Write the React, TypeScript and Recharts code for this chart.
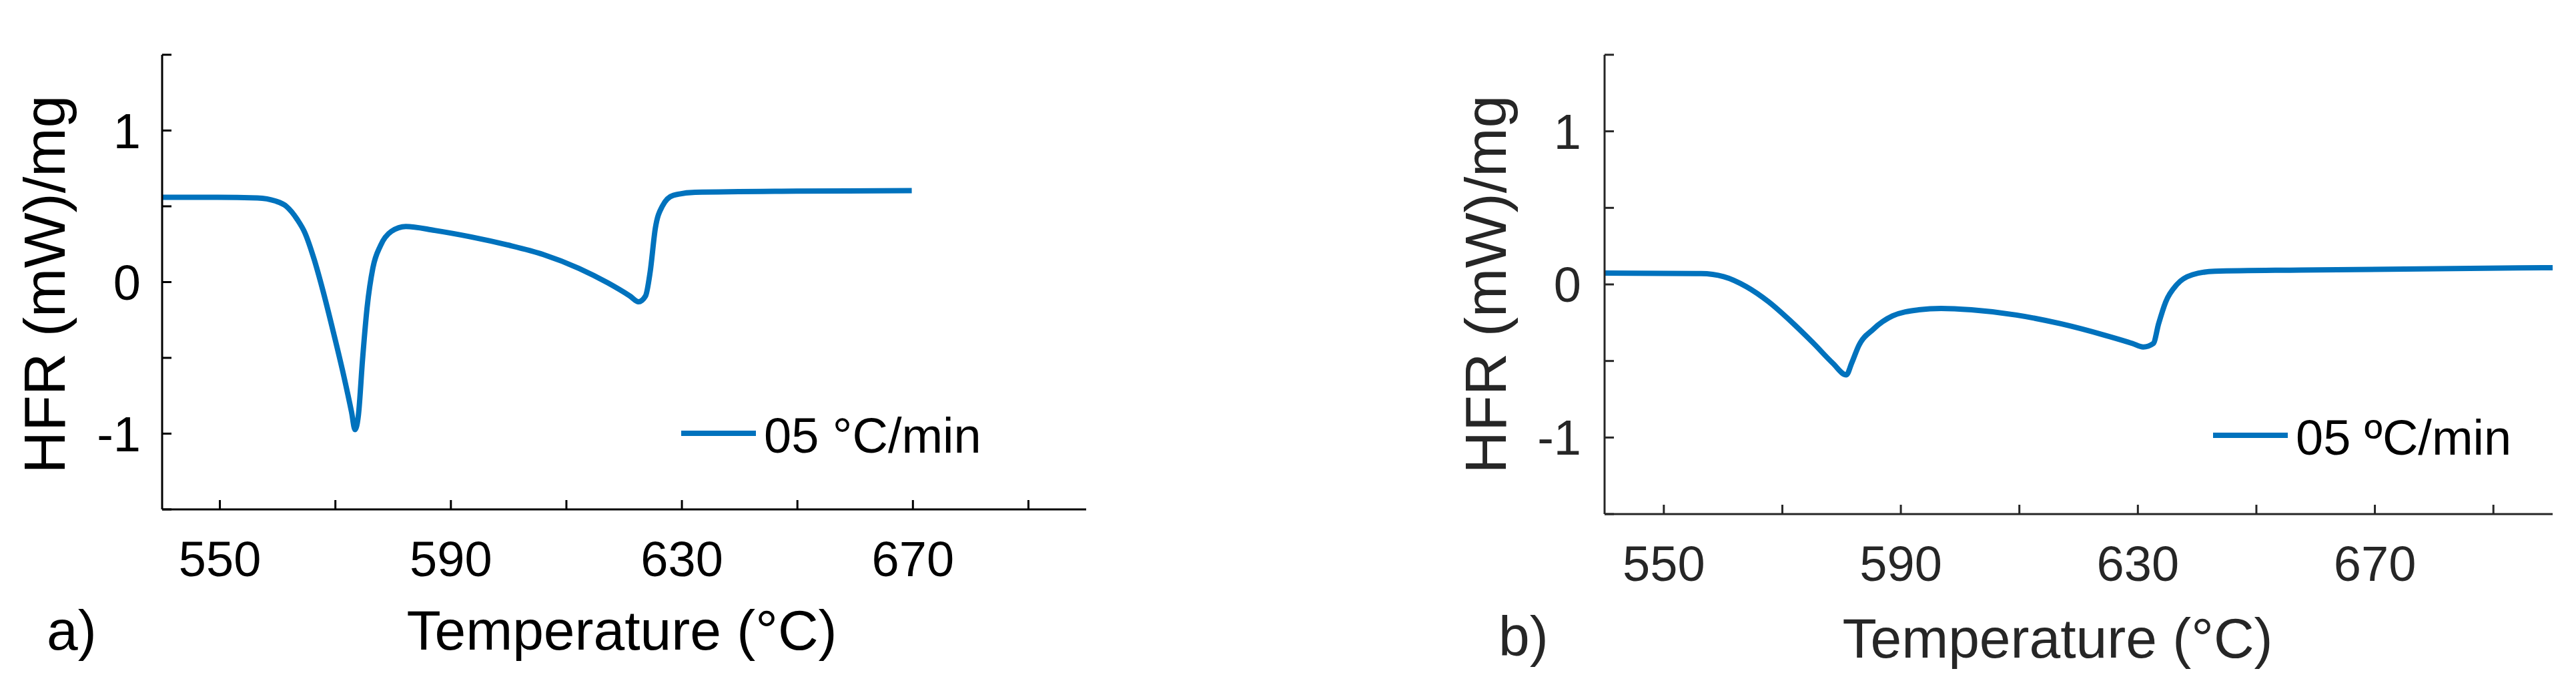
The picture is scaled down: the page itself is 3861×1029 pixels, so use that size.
import React from 'react'
import { LineChart, Line, XAxis, YAxis, Legend } from 'recharts'

// panel a) readings
const tempA = [540, 549.6, 556.5, 559.6, 561.5, 563.4, 564.7, 566.3, 567.8, 569.7, 571.5, 572.8, 573.4, 574.0, 574.7, 575.5, 576.5, 577.8, 579.7, 582.2, 587.2, 593.5, 599.7, 606.0, 612.2, 617.2, 621.0, 622.5, 623.7, 624.5, 625.4, 626.6, 628.5, 632.3, 649.8, 669.8]
const hfrA = [0.56, 0.56, 0.555, 0.535, 0.5, 0.413, 0.327, 0.153, -0.05, -0.338, -0.627, -0.858, -0.974, -0.873, -0.512, -0.165, 0.095, 0.24, 0.335, 0.367, 0.341, 0.298, 0.246, 0.182, 0.09, -0.006, -0.092, -0.13, -0.092, 0.066, 0.355, 0.5, 0.572, 0.592, 0.6, 0.604]

// panel b) readings
const tempB = [540, 556.3, 560.1, 563.9, 567.7, 571.5, 575.3, 578.5, 580.8, 581.7, 582.9, 585.4, 588.6, 593.0, 596.8, 601.9, 609.5, 617.0, 624.6, 629.1, 630.9, 632.6, 633.5, 634.7, 636.6, 639.2, 643.0, 657.5, 700]
const hfrB = [0.074, 0.071, 0.051, -0.014, -0.114, -0.243, -0.386, -0.514, -0.591, -0.514, -0.4, -0.291, -0.206, -0.166, -0.157, -0.166, -0.2, -0.257, -0.334, -0.386, -0.409, -0.386, -0.257, -0.114, 0, 0.063, 0.086, 0.094, 0.109]

const xTicks = [550, 570, 590, 610, 630, 650, 670, 690]
const xLabels = [550, 590, 630, 670]
const yTicks = [-1.5, -1, -0.5, 0, 0.5, 1, 1.5]
const yLabels = [-1, 0, 1]

const dataA = tempA.map((t, i) => ({ t, v: hfrA[i] }))
const dataB = tempB.map((t, i) => ({ t, v: hfrB[i] }))

const FONT = "Arial, 'Liberation Sans', Helvetica, sans-serif"
const BLUE = '#0072BD'

const makeXTick = (color: string) => (props: any) => {
  const { x, y, payload } = props
  return (
    <g>
      <line x1={x} y1={y} x2={x} y2={y - 14} stroke={color} strokeWidth={3} />
      {xLabels.includes(payload.value) && (
        <text x={x} y={y + 100} textAnchor="middle" fontSize={74} fontFamily={FONT} fill={color}>
          {payload.value}
        </text>
      )}
    </g>
  )
}

const makeYTick = (color: string, gap: number) => (props: any) => {
  const { x, y, payload } = props
  return (
    <g>
      <line x1={x} y1={y} x2={x + 14} y2={y} stroke={color} strokeWidth={3} />
      {yLabels.includes(payload.value) && (
        <text x={x - gap} y={y + 26} textAnchor="end" fontSize={74} fontFamily={FONT} fill={color}>
          {payload.value}
        </text>
      )}
    </g>
  )
}

const makeLegend = (label: string, lx: number, ly: number) => () => (
  <svg width={560} height={150}>
    <line x1={lx} y1={ly} x2={lx + 112} y2={ly} stroke={BLUE} strokeWidth={8} />
    <text x={lx + 124} y={ly + 29} fontSize={74} fontFamily={FONT} fill="#000">
      {label}
    </text>
  </svg>
)

type PanelProps = {
  data: any[]
  left: number
  width: number
  margin: { top: number; right: number; bottom: number; left: number }
  color: string
  letter: string
  letterX: number
  letterY: number
  xLabelX: number
  xLabelY: number
  yLabelX: number
  legendLabel: string
  legendPos: { left: number; top: number; lx: number; ly: number }
  tickGap: number
}

const Panel = (p: PanelProps) => (
  <div style={{ position: 'absolute', left: p.left, top: 0 }}>
    <LineChart width={p.width} height={1029} data={p.data} margin={p.margin}>
      <XAxis
        dataKey="t"
        type="number"
        domain={[540, 700]}
        ticks={xTicks}
        interval={0}
        height={100}
        tickSize={0}
        tickMargin={0}
        axisLine={{ stroke: p.color, strokeWidth: 3 }}
        tickLine={false}
        tick={makeXTick(p.color)}
        label={() => (
          <g>
            <text x={p.xLabelX} y={p.xLabelY} textAnchor="middle" fontSize={84} fontFamily={FONT} fill={p.color}>
              Temperature (°C)
            </text>
            <text x={p.letterX} y={p.letterY} fontSize={84} fontFamily={FONT} fill={p.color}>
              {p.letter}
            </text>
          </g>
        )}
      />
      <YAxis
        type="number"
        domain={[-1.5, 1.5]}
        ticks={yTicks}
        interval={0}
        width={100}
        tickSize={0}
        tickMargin={0}
        axisLine={{ stroke: p.color, strokeWidth: 3 }}
        tickLine={false}
        tick={makeYTick(p.color, p.tickGap)}
        label={() => (
          <text
            x={p.yLabelX}
            y={426}
            transform={`rotate(-90 ${p.yLabelX} 426)`}
            textAnchor="middle"
            fontSize={88}
            fontFamily={FONT}
            fill={p.color}
          >
            HFR (mW)/mg
          </text>
        )}
      />
      <Legend
        layout="vertical"
        align="center"
        verticalAlign="middle"
        wrapperStyle={{ left: p.legendPos.left, top: p.legendPos.top, width: 560, height: 150 }}
        content={makeLegend(p.legendLabel, p.legendPos.lx, p.legendPos.ly)}
      />
      <Line
        type="monotone"
        dataKey="v"
        name={p.legendLabel}
        stroke={BLUE}
        strokeWidth={8}
        dot={false}
        isAnimationActive={false}
      />
    </LineChart>
  </div>
)

export default function App() {
  return (
    <div
      style={{
        position: 'absolute',
        left: 0,
        top: 0,
        width: 3861,
        height: 1029,
        background: '#fff',
        overflow: 'hidden',
        fontFamily: FONT,
      }}
    >
      <Panel
        data={dataA}
        left={0}
        width={1700}
        margin={{ top: 82, right: 72, bottom: 166, left: 143 }}
        color="#000"
        letter="a)"
        letterX={70}
        letterY={973}
        xLabelX={932}
        xLabelY={973}
        yLabelX={97}
        legendLabel="05 °C/min"
        legendPos={{ left: 1000, top: 580, lx: 21, ly: 69 }}
        tickGap={32}
      />
      <Panel
        data={dataB}
        left={1900}
        width={1961}
        margin={{ top: 82, right: 35, bottom: 159, left: 405 }}
        color="#262626"
        letter="b)"
        letterX={346}
        letterY={982}
        xLabelX={1184}
        xLabelY={985}
        yLabelX={357}
        legendLabel="05 ºC/min"
        legendPos={{ left: 1400, top: 580, lx: 17, ly: 72 }}
        tickGap={35}
      />
    </div>
  )
}
